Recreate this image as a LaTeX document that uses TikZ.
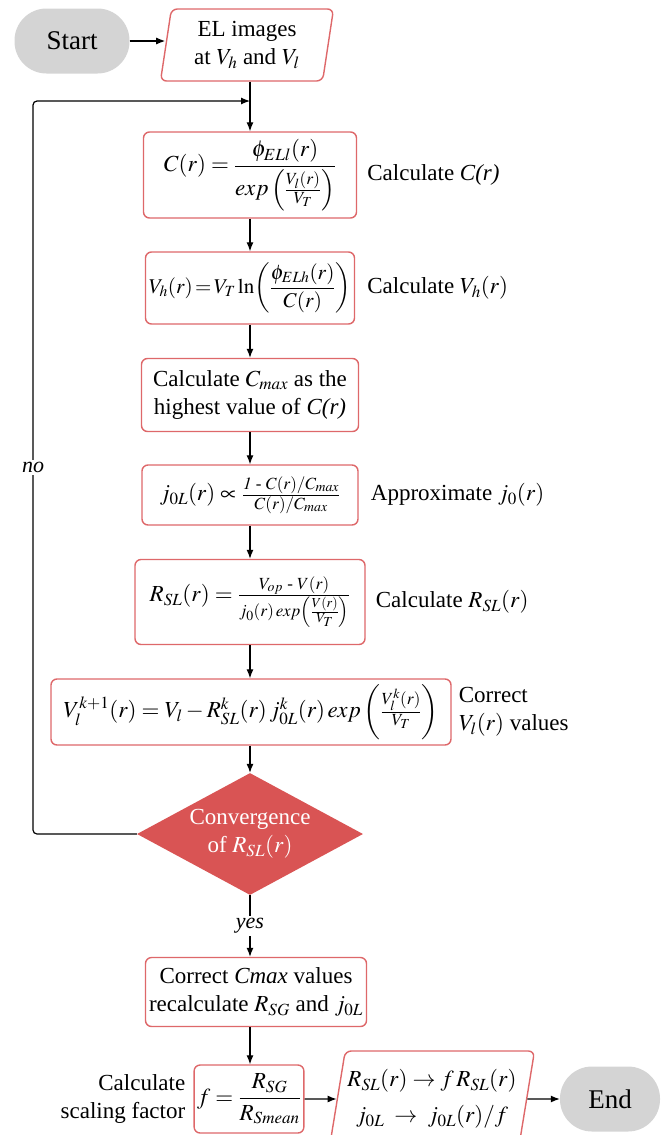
\documentclass[tikz,border=0pt]{standalone}
\usepackage{mathptmx}
\usepackage[no-math]{fontspec}
\setmainfont{Liberation Serif}
\usepackage{amsmath}
\usetikzlibrary{positioning,arrows.meta,shapes.geometric}
\definecolor{fcRed}{RGB}{222,104,106}
\definecolor{fcFill}{RGB}{217,84,84}
\definecolor{fcGray}{RGB}{212,212,212}

\begin{document}
\begin{tikzpicture}[x=1pt, y=-1pt, font=\fontsize{23}{28}\selectfont,
  proc/.style={draw=fcRed, line width=1.4pt, rounded corners=6pt, fill=white, align=center, inner sep=3pt},
  io/.style={trapezium, trapezium left angle=#1, trapezium right angle=180-#1, trapezium stretches body,
    draw=fcRed, line width=1.4pt, rounded corners=6pt, fill=white, align=center, inner sep=2pt},
  pill/.style={fill=fcGray, rounded corners=32pt, minimum width=#1, minimum height=65pt, font=\fontsize{27}{30}\selectfont},
  decide/.style={diamond, fill=fcFill, text=white, inner sep=-12pt, minimum width=226pt, minimum height=108pt, align=center},
  note/.style={inner sep=0pt, align=left},
  branch/.style={fill=white, inner sep=2pt, font=\fontsize{22}{26}\selectfont\itshape},
  arr/.style={-{Latex[length=9pt,width=7pt]}, line width=1.2pt}]
\useasboundingbox (0,0) rectangle (663,1135);
\coordinate (axis) at (250,0);
% start and input
\node[pill=115pt] (start) at (72,41) {Start};
\node[io=78, minimum width=173pt, minimum height=72pt] (elimg) at (247,45) {EL images\\at $V_h$ and $V_l$};
% iteration steps
\node[proc, minimum width=213pt, minimum height=86pt] (cfun) at (250,175)
  {$C(r)=\dfrac{\phi_{ELl}(r)}{exp\left(\frac{V_l(r)}{V_T}\right)}$};
\node[proc, minimum width=209pt, minimum height=72pt, font=\fontsize{21}{26}\selectfont] (vhfun) at (250,288)
  {$V_h(r)\!=\!V_T\ln\!\left(\dfrac{\phi_{ELh}(r)}{C(r)}\right)$};
\node[proc, minimum width=217pt, minimum height=73pt] (cmax) at (250,395)
  {Calculate $C_{max}$ as the\\highest value of \textit{C(r)}};
\node[proc, minimum width=216pt, minimum height=60pt] (j0l) at (250,495)
  {$j_{0L}(r)\propto\frac{\mathit{1}\text{ - }C(r)/C_{max}}{C(r)/C_{max}}$};
\node[proc, minimum width=230pt, minimum height=85pt] (rsl) at (250,602)
  {$R_{SL}(r)=\frac{V_{op}\text{ - }V(r)}{j_0(r)\,exp\left(\frac{V(r)}{V_T}\right)}$};
\node[proc, minimum width=400pt, minimum height=66pt] (vlfun) at (251,712)
  {$V_l^{k+1}(r)=V_l-R_{SL}^k(r)\,j_{0L}^k(r)\,exp\left(\frac{V_l^k(r)}{V_T}\right)$};
\node[decide] (conv) at (250,834) {Convergence\\of $R_{SL}(r)$};
% final corrections
\node[proc, minimum width=221pt, minimum height=69pt] (corr) at (256,992)
  {Correct \textit{Cmax} values\\recalculate $R_{SG}$ and $j_{0L}$};
\node[proc, minimum width=102pt, minimum height=68pt] (fbox) at (249,1099)
  {$f=\dfrac{R_{SG}}{R_{Smean}}$};
\node[io=76, minimum width=205pt, minimum height=96pt] (scale) at (432,1099)
  {$R_{SL}(r)\rightarrow f\,R_{SL}(r)$\\[8pt]$j_{0L}\;\rightarrow\;j_{0L}(r)/f$};
\node[pill=100pt] (stop) at (610,1099) {End};
% side labels
\node[note, right=10pt of cfun] (cfunlbl) {Calculate \textit{C(r)}};
\node[note, right=12pt of vhfun] (vhlbl) {Calculate $V_h(r)$};
\node[note, right=12pt of j0l] (j0llbl) {Approximate $j_0(r)$};
\node[note, right=10pt of rsl] (rsllbl) {Calculate $R_{SL}(r)$};
\node[note, right=7pt of vlfun] (vllbl) {Correct\\$V_l(r)$ values};
\node[note, align=right, left=8pt of fbox] (flbl) {Calculate\\scaling factor};
% connectors
\draw[arr] (start) -- (start -| elimg.west);
\foreach \a/\b in {elimg/cfun, cfun/vhfun, vhfun/cmax, cmax/j0l, j0l/rsl, rsl/vlfun, vlfun/conv, corr/fbox}
  \draw[arr] (\a.south -| axis) -- (\b.north -| axis);
\draw[arr] (conv.south) -- node[branch]{yes} (corr.north -| axis);
\coordinate (loopc) at (33,101);
\coordinate (join) at (250,101);
\draw[arr, rounded corners=4pt] (conv.west) -| node[branch, pos=0.75]{no} (loopc) -- (join);
\draw[arr] (fbox) -- (scale);
\draw[arr] (scale) -- (stop);
\end{tikzpicture}
\end{document}
